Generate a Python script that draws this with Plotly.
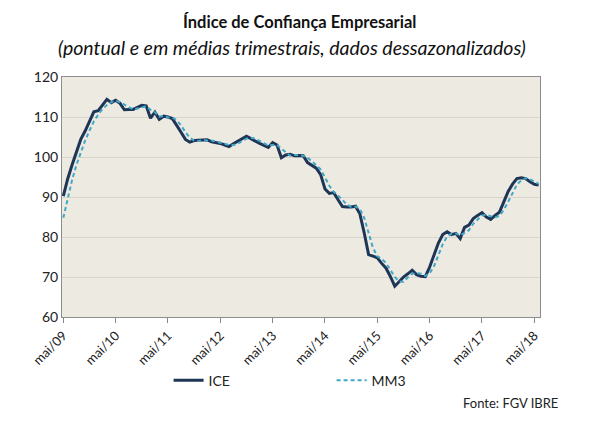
import plotly.graph_objects as go

meses = ['jan', 'fev', 'mar', 'abr', 'mai', 'jun', 'jul', 'ago', 'set', 'out', 'nov', 'dez']

# mai/09 .. jun/18, monthly
ice = [
    90.2, 94.5, 98.0, 101.5, 104.4, 106.5, 109.0, 111.3, 111.6, 113.0,
    114.4, 113.6, 114.2, 113.4, 111.8, 111.9, 111.9, 112.4, 112.9, 112.8,
    109.7, 111.2, 109.4, 110.2, 110.0, 109.6, 108.0, 106.2, 104.4, 103.7,
    104.1, 104.2, 104.2, 104.3, 103.8, 103.6, 103.4, 103.0, 102.6, 103.3,
    104.0, 104.6, 105.2, 104.6, 103.9, 103.4, 102.9, 102.4, 103.6, 103.0,
    99.8, 100.5, 100.7, 100.3, 100.4, 100.3, 98.6, 97.8, 97.2, 95.6,
    92.0, 90.9, 91.1, 89.3, 87.6, 87.5, 87.5, 87.7, 85.8, 81.0,
    75.6, 75.2, 74.8, 73.4, 72.2, 70.1, 67.7, 68.8, 70.0, 70.8,
    71.7, 70.6, 70.2, 70.1, 72.5, 75.5, 78.5, 80.6, 81.3, 80.6,
    80.9, 79.6, 82.4, 83.0, 84.6, 85.4, 86.1, 85.0, 84.4, 85.4,
    86.2, 88.8, 91.4, 93.2, 94.6, 94.8, 94.6, 93.8, 93.2, 93.0,
]
mm3 = [
    84.8, 89.8, 94.2, 98.0, 101.3, 104.1, 106.6, 108.9, 110.6, 112.0,
    113.0, 113.7, 114.1, 113.7, 113.1, 112.4, 111.9, 112.1, 112.4, 112.7,
    111.8, 111.2, 110.1, 110.3, 109.9, 109.9, 109.2, 107.9, 106.2, 104.8,
    104.1, 104.0, 104.2, 104.2, 104.1, 103.9, 103.6, 103.3, 103.0, 103.0,
    103.3, 104.0, 104.6, 104.8, 104.6, 104.0, 103.4, 102.9, 103.0, 103.0,
    102.1, 101.1, 100.3, 100.5, 100.5, 100.3, 99.8, 98.9, 97.9, 96.9,
    94.9, 92.8, 91.3, 90.4, 89.3, 88.1, 87.5, 87.6, 87.0, 84.8,
    80.8, 77.3, 75.2, 74.5, 73.5, 71.9, 70.0, 68.9, 68.8, 69.9,
    70.8, 71.0, 70.8, 70.3, 70.9, 72.7, 75.5, 78.2, 80.1, 80.8,
    80.9, 80.4, 81.0, 81.7, 83.3, 84.3, 85.4, 85.5, 85.2, 84.9,
    85.3, 86.8, 88.8, 91.1, 93.1, 94.2, 94.7, 94.4, 93.9, 93.3,
]

labels = []
for k in range(len(ice)):
    m = (4 + k) % 12
    a = 9 + (4 + k) // 12
    labels.append(f'{meses[m]}/{a:02d}')

x = list(range(len(ice)))
tick_idx = x[::12]
tick_txt = [labels[i] for i in tick_idx]

font = 'Lato, Open Sans, sans-serif'

fig = go.Figure()
fig.add_trace(go.Scatter(
    x=x, y=ice, mode='lines', name='ICE',
    line=dict(color='#1F3556', width=3),
))
fig.add_trace(go.Scatter(
    x=x, y=mm3, mode='lines', name='MM3',
    line=dict(color='#3FA7C9', width=2, dash='4px,3px'),
))

# page body adds an 8px offset, margins compensate for it
fig.update_layout(
    width=611, height=444,
    margin=dict(l=54, r=79, t=69, b=135),
    paper_bgcolor='white',
    plot_bgcolor='#EDEAE1',
    font=dict(family=font, size=13, color='#333333'),
    showlegend=True,
    legend=dict(
        orientation='h', x=0.223, y=-0.265, xanchor='left', yanchor='middle',
        entrywidth=118, font=dict(size=14, color='#222222'),
        bgcolor='rgba(0,0,0,0)',
    ),
    xaxis=dict(
        range=[-0.3, 109.3], automargin=False,
        tickmode='array', tickvals=tick_idx, ticktext=tick_txt,
        tickangle=-45, ticks='outside', ticklen=5, tickcolor='#888888',
        showgrid=False, zeroline=False,
        showline=True, linecolor='#8C8C8C', linewidth=1, mirror=True,
        tickfont=dict(size=13, color='#222222'),
    ),
    yaxis=dict(
        range=[60, 120], dtick=10, automargin=False,
        showgrid=True, gridcolor='#D8D4CA', gridwidth=1,
        zeroline=False, ticks='',
        showline=True, linecolor='#8C8C8C', linewidth=1, mirror=True,
        tickfont=dict(size=14, color='#222222'),
    ),
    annotations=[
        dict(text='<b>Índice de Confiança Empresarial</b>', xref='paper', yref='paper',
             x=0.5, y=1.0, xshift=-2, yshift=55, yanchor='middle', showarrow=False,
             font=dict(size=16.5, color='#111111')),
        dict(text='<i>(pontual e em médias trimestrais, dados dessazonalizados)</i>',
             xref='paper', yref='paper', x=0.5, y=1.0, xshift=-9, yshift=30,
             yanchor='middle', showarrow=False, font=dict(size=19.5, color='#111111')),
        dict(text='Fonte: FGV IBRE', xref='paper', yref='paper',
             x=1.042, y=-0.358, xanchor='right', yanchor='middle', showarrow=False,
             font=dict(size=13, color='#222222')),
    ],
)

fig.write_html('out.html')
